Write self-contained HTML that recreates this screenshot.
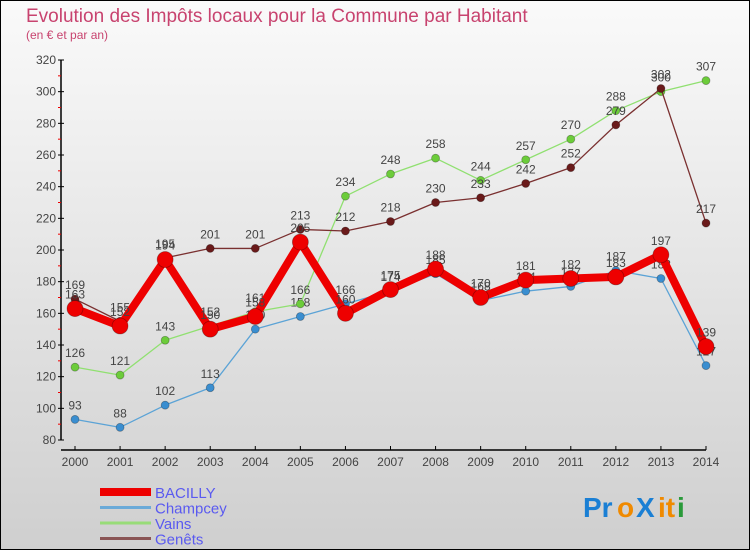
<!DOCTYPE html>
<html><head><meta charset="utf-8"><style>
body{margin:0;width:750px;height:550px;overflow:hidden;font-family:"Liberation Sans",sans-serif}
svg text{font-family:"Liberation Sans",sans-serif}
</style></head><body>
<svg id="c" width="750" height="550" xmlns="http://www.w3.org/2000/svg">
<defs><linearGradient id="bg" x1="0" y1="0" x2="0" y2="1"><stop offset="0" stop-color="#fafafa"/><stop offset="1" stop-color="#cfcfcf"/></linearGradient></defs>
<rect x="0.5" y="0.5" width="749" height="549" fill="url(#bg)" stroke="#000"/>
<text x="26" y="22" font-size="19" fill="#c8436f">Evolution des Impôts locaux pour la Commune par Habitant</text>
<text x="26" y="39" font-size="12" fill="#c8436f">(en € et par an)</text>
<g id="axes"></g><g id="series"></g><g id="legend"></g>
<g font-size="28" font-weight="bold">
<text x="583" y="517" fill="#1a7fd4">Pr</text><text x="617" y="517" fill="#f08a00">o</text><text x="636" y="517" fill="#1a7fd4">X</text><text x="658" y="517" fill="#f08a00">it</text><text x="677" y="517" fill="#2a9a3a">i</text>
</g>
</svg>
<script>
const years=[2000,2001,2002,2003,2004,2005,2006,2007,2008,2009,2010,2011,2012,2013,2014];
const bacilly=[163,152,194,150,158,205,160,175,188,170,181,182,183,197,139];
const champcey=[93,88,102,113,150,158,166,174,185,168,174,177,187,182,127];
const vains=[126,121,143,152,161,166,234,248,258,244,257,270,288,300,307];
const genets=[169,155,195,201,201,213,212,218,230,233,242,252,279,302,217];
const yTicks=[80,100,120,140,160,180,200,220,240,260,280,300,320];
const NS='http://www.w3.org/2000/svg';
const X=i=>75+i*(706-75)/(years.length-1);
const Y=v=>440-(v-80)*(380/240);
function mk(t,a,p){const e=document.createElementNS(NS,t);for(const k in a)e.setAttribute(k,a[k]);(p||document.getElementById('series')).appendChild(e);return e;}
const ax=document.getElementById('axes');
let e=mk('line',{x1:61,y1:Y(320),x2:61,y2:Y(80),stroke:'#000','stroke-width':1.5},ax);

e=mk('line',{x1:61,y1:450,x2:706,y2:450,stroke:'#000','stroke-width':1.5},ax);

yTicks.forEach((v,i)=>{
 mk('line',{x1:58,y1:Y(v),x2:64,y2:Y(v),stroke:'#000'},ax);
 if(i<yTicks.length-1)mk('line',{x1:58,y1:Y(v+10),x2:61,y2:Y(v+10),stroke:'#e00'},ax);
 const t=mk('text',{x:56,y:Y(v)+4,'font-size':12,'text-anchor':'end',fill:'#444'},ax);t.textContent=v;
 
});
years.forEach((yr,i)=>{
 mk('line',{x1:X(i),y1:446,x2:X(i),y2:450,stroke:'#000'},ax);
 const t=mk('text',{x:X(i),y:466,'font-size':12,'text-anchor':'middle',fill:'#444'},ax);t.textContent=yr;
 
});
function series(name,data,color,w,r,dot){
 const g=mk('g',{});
 
 
 const pl=mk('polyline',{points:data.map((v,i)=>X(i)+','+Y(v)).join(' '),fill:'none',stroke:color,'stroke-width':w,'stroke-linejoin':'round'},g);
 
 data.forEach((v,i)=>{
  const c=mk('circle',{cx:X(i),cy:Y(v),r:r,fill:dot,stroke:'rgba(0,0,0,0.3)','stroke-width':0.8},g);
  
  const t=mk('text',{x:X(i),y:Y(v)-10,'font-size':12,'text-anchor':'middle',fill:'#444'},g);t.textContent=v;
  
 });
}
series('champcey',champcey,'#5ba3d6',1.3,4,'#3a8ed0');
series('vains',vains,'#90e070',1.3,4,'#6ccc3a');
series('genets',genets,'#7a3030',1.3,4,'#6a1a1a');
series('bacilly',bacilly,'#ee0000',8,8,'#ee0000');
const lg=document.getElementById('legend');
[['BACILLY','#ee0000',8],['Champcey','#6aaad8',3],['Vains','#98dc78',3],['Genêts','#8a5555',3]].forEach((d,i)=>{
 const y=492+i*15.5;
 const l=mk('line',{x1:100,y1:y,x2:151,y2:y,stroke:d[1],'stroke-width':d[2]},lg);
 
 const t=mk('text',{x:155,y:y+6,'font-size':15,fill:'#5a5af0'},lg);t.textContent=d[0];
 
});
</script>
</body></html>
